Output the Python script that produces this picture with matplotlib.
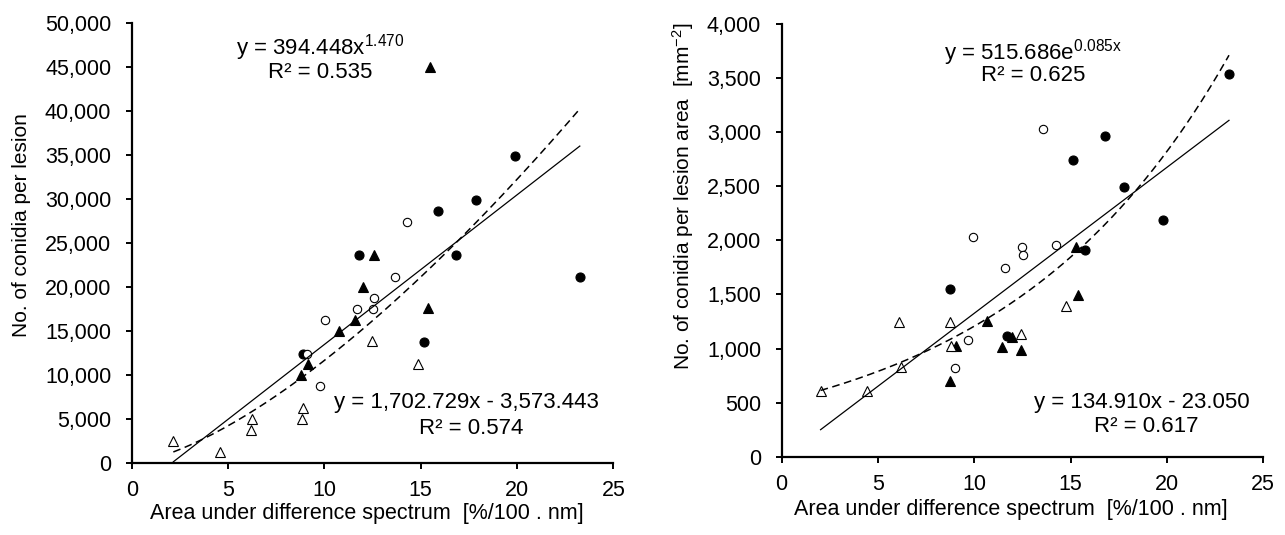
import numpy as np
import matplotlib
matplotlib.use("Agg")
import matplotlib.pyplot as plt

plt.rcParams['font.family'] = ['Liberation Sans', 'DejaVu Sans']
plt.rcParams['mathtext.fontset'] = 'custom'
plt.rcParams['mathtext.rm'] = 'Liberation Sans'
plt.rcParams['mathtext.it'] = 'Liberation Sans'

# ---- left panel: conidia per lesion ----
a_fc_x = [23.26, 19.89, 17.85, 15.88, 16.83, 11.80, 15.19, 8.87]
a_fc_y = [21100, 34900, 29900, 28600, 23600, 23600, 13700, 12400]
a_oc_x = [14.30, 13.66, 12.57, 11.68, 12.54, 10.03, 9.08, 9.77]
a_oc_y = [27400, 21100, 18700, 17500, 17500, 16200, 12400, 8700]
a_ft_x = [15.48, 12.57, 12.02, 15.39, 11.59, 10.76, 9.17, 8.79]
a_ft_y = [45000, 23600, 20000, 17600, 16200, 15000, 11200, 10000]
a_ot_x = [12.49, 14.84, 8.91, 6.26, 8.85, 6.19, 2.16, 4.58]
a_ot_y = [13800, 11200, 6200, 5000, 5000, 3700, 2500, 1250]

# ---- right panel: conidia per lesion area ----
b_fc_x = [23.22, 16.79, 15.11, 17.79, 19.81, 15.75, 8.75, 11.68]
b_fc_y = [3538, 2968, 2743, 2496, 2188, 1911, 1550, 1118]
b_oc_x = [13.55, 9.92, 12.46, 12.51, 14.24, 11.59, 9.66, 9.00]
b_oc_y = [3032, 2028, 1936, 1865, 1957, 1741, 1079, 823]
b_ft_x = [15.26, 15.40, 10.64, 11.94, 9.05, 11.45, 12.41, 8.74]
b_ft_y = [1936, 1495, 1254, 1103, 1023, 1011, 986, 703]
b_ot_x = [14.74, 6.09, 8.74, 12.41, 8.79, 6.18, 4.41, 2.02]
b_ot_y = [1393, 1242, 1242, 1131, 1026, 826, 607, 607]

x_ticks = [0, 5, 10, 15, 20, 25]
a_yticks = list(range(0, 50001, 5000))
b_yticks = list(range(0, 4001, 500))

xlabel = 'Area under difference spectrum  [%/100 . nm]'


def scatter_groups(ax, groups):
    for (x, y), style in groups:
        ax.plot(x, y, linestyle='none', **style)


fc = dict(marker='o', ms=6.5, mfc='black', mec='black', mew=0.8)
oc = dict(marker='o', ms=6.0, mfc='white', mec='black', mew=0.8)
ft = dict(marker='^', ms=6.5, mfc='black', mec='black', mew=0.8)
ot = dict(marker='^', ms=6.5, mfc='white', mec='black', mew=0.8)


def style_axes(ax, yticks):
    ax.spines['top'].set_visible(False)
    ax.spines['right'].set_visible(False)
    ax.spines['left'].set_linewidth(1.6)
    ax.spines['bottom'].set_linewidth(1.6)
    ax.set_xlim(0, 25)
    ax.set_ylim(0, yticks[-1])
    ax.set_xticks(x_ticks)
    ax.set_yticks(yticks)
    ax.set_yticklabels([f'{v:,}' for v in yticks])
    ax.tick_params(direction='out', length=4.3, width=1.4, labelsize=15.5)
    ax.tick_params(axis='x', pad=8.5)
    ax.tick_params(axis='y', pad=10.5)


fig = plt.figure(figsize=(12.85, 5.35), dpi=100)
ax1 = fig.add_axes([0.1025, 0.1351, 0.3748, 0.8213])
ax2 = fig.add_axes([0.6083, 0.1464, 0.3748, 0.8087])

# left panel
scatter_groups(ax1, [((a_fc_x, a_fc_y), fc), ((a_oc_x, a_oc_y), oc),
                     ((a_ft_x, a_ft_y), ft), ((a_ot_x, a_ot_y), ot)])
allx = a_fc_x + a_oc_x + a_ft_x + a_ot_x
xs = np.linspace(min(allx), max(allx), 200)
ax1.plot(xs, 1702.729 * xs - 3573.443, color='black', lw=0.9)
ax1.plot(xs, 394.448 * xs ** 1.470, color='black', lw=1.1, ls=(0, (5, 3)))
style_axes(ax1, a_yticks)
ax1.text(9.8, 47300, 'y = 394.448x$^{1.470}$', ha='center', va='center', fontsize=16)
ax1.text(9.8, 44400, 'R² = 0.535', ha='center', va='center', fontsize=16)
ax1.text(17.4, 6800, 'y = 1,702.729x - 3,573.443', ha='center', va='center', fontsize=16)
ax1.text(17.6, 3950, 'R² = 0.574', ha='center', va='center', fontsize=16)

# right panel
scatter_groups(ax2, [((b_fc_x, b_fc_y), fc), ((b_oc_x, b_oc_y), oc),
                     ((b_ft_x, b_ft_y), ft), ((b_ot_x, b_ot_y), ot)])
allx = b_fc_x + b_oc_x + b_ft_x + b_ot_x
xs = np.linspace(min(allx), max(allx), 200)
ax2.plot(xs, 134.910 * xs - 23.050, color='black', lw=0.9)
ax2.plot(xs, 515.686 * np.exp(0.085 * xs), color='black', lw=1.1, ls=(0, (5, 3)))
style_axes(ax2, b_yticks)
ax2.text(13.05, 3740, 'y = 515.686e$^{0.085x}$', ha='center', va='center', fontsize=16)
ax2.text(13.05, 3520, 'R² = 0.625', ha='center', va='center', fontsize=16)
ax2.text(18.7, 500, 'y = 134.910x - 23.050', ha='center', va='center', fontsize=16)
ax2.text(18.95, 275, 'R² = 0.617', ha='center', va='center', fontsize=16)

fig.text(367 / 1285, 1 - 514 / 535, xlabel, ha='center', va='center', fontsize=15.5)
fig.text(1011 / 1285, 1 - 509 / 535, xlabel, ha='center', va='center', fontsize=15.5)
fig.text(22 / 1285, 1 - 225 / 535, 'No. of conidia per lesion', rotation=90,
         ha='center', va='center', fontsize=15)
fig.text(683 / 1285, 1 - 196 / 535, 'No. of conidia per lesion area  [mm$^{-2}$]', rotation=90,
         ha='center', va='center', fontsize=15)

fig.savefig('out.png', dpi=100)
